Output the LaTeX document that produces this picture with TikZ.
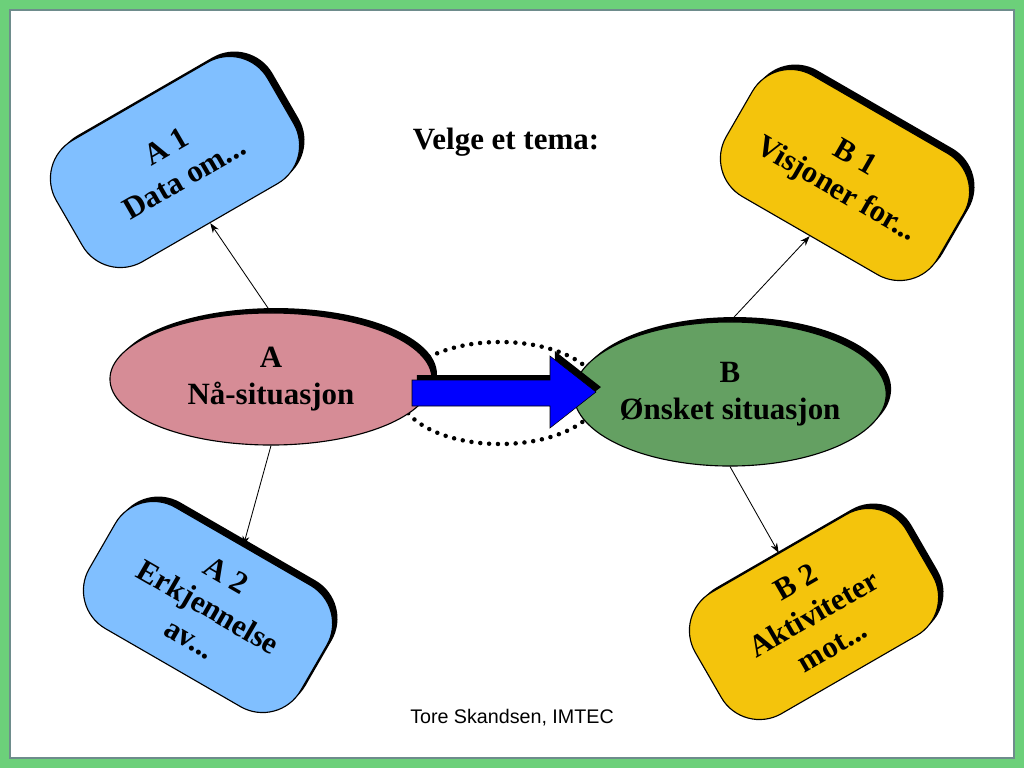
\documentclass[tikz,border=0pt]{standalone}
\usepackage{fontspec}
\setmainfont{Liberation Serif}
\setsansfont{Liberation Sans}
\usepackage{xcolor}
\usepackage{tikz}
\usetikzlibrary{positioning,arrows.meta,shapes.geometric,shadows,calc}

\definecolor{framegreen}{RGB}{108,208,122}
\definecolor{frameline}{RGB}{110,140,140}
\definecolor{cardblue}{RGB}{128,191,255}
\definecolor{cardyellow}{RGB}{244,196,12}
\definecolor{ovalpink}{RGB}{214,140,150}
\definecolor{ovalgreen}{RGB}{100,160,98}

\begin{document}
\begin{tikzpicture}[x=0.025cm, y=-0.025cm,
    font=\fontsize{22}{26}\selectfont\bfseries,
    solid shadow/.style={drop shadow={shadow xshift=3.5pt, shadow yshift=3.5pt, fill=black, opacity=1}},
    oval/.style={ellipse, draw, thick, solid shadow, align=center, inner sep=0pt},
    card/.style={draw, thick, rounded corners=1.1cm, minimum width=6.1cm, minimum height=3.5cm, solid shadow, align=center},
    link/.style={-{Stealth[length=7pt, width=5pt]}, semithick}]

  \useasboundingbox (0,0) rectangle (1024,768);

  % Frame
  \fill[framegreen] (0,0) rectangle (1024,768);
  \filldraw[fill=white, draw=frameline, line width=0.8pt] (10,10) rectangle (1014,758);

  % Title
  \node (title) at (506,142) {Velge et tema:};

  % Dotted ring round the step
  \node[ellipse, draw, minimum width=5cm, minimum height=2.55cm, line width=3.2pt,
        dash pattern=on 0pt off 6.3pt, line cap=round] (ring) at (500,393) {};

  % Now and wanted situation
  \node[oval, fill=ovalpink, minimum width=8.05cm, minimum height=3.3cm] (A) at (271,379) {A\\Nå-situasjon};
  \node[oval, fill=ovalgreen, minimum width=7.65cm, minimum height=3.6cm] (B) at (730,394) {B\\Ønsket situasjon};

  % Big blue arrow A -> B
  \filldraw[fill=blue, draw=black, solid shadow] (412,380) -- (550,380) -- (550,356) -- (596,392)
    -- (550,428) -- (550,406) -- (412,406) -- cycle;

  % Cards
  \node[card, fill=cardblue, rotate=30] (A1) at (175,162) {A 1\\Data om...};
  \node[card, fill=cardblue, rotate=-30] (A2) at (208,607) {A 2\\Erkjennelse\\av...};
  \node[card, fill=cardyellow, rotate=-30] (B1) at (845,175) {B 1\\Visjoner for...};
  \node[card, fill=cardyellow, rotate=30] (B2) at (814,614) {B 2\\Aktiviteter\\mot...};

  % Links
  \draw[link] (A.north) -- (A1.south);
  \draw[link] (A.south) -- (A2.north);
  \draw[link] (B.north) -- (B1.south);
  \draw[link] (B.south) -- (B2.north);

  % Footer
  \node[font=\sffamily\fontsize{14}{16}\selectfont] (footer) at (512,718) {Tore Skandsen, IMTEC};

\end{tikzpicture}
\end{document}
